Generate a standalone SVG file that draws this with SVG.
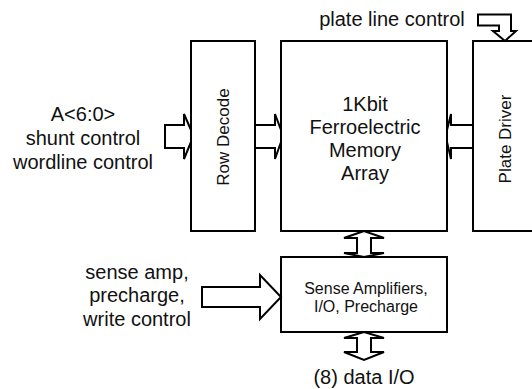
<svg xmlns="http://www.w3.org/2000/svg" width="532" height="389" viewBox="0 0 532 389">
<style>
.box{fill:#fff;stroke:#000;stroke-width:2}
.arr{fill:none;stroke:#000;stroke-width:2;stroke-linejoin:miter}
.arrf{fill:#fff;stroke:#000;stroke-width:2;stroke-linejoin:miter}
text{font-family:"Liberation Sans",Arial,sans-serif;fill:#111;text-anchor:middle}
.t{font-size:20px}
.v{font-size:17px}
.s{font-size:16px}
</style>
<rect width="532" height="389" fill="#fff"/>
<g id="row-decode">
<rect class="box" x="191" y="41" width="64" height="190"/>
<text class="v" transform="translate(229,137) rotate(-90)">Row Decode</text>
</g>
<g id="memory-array">
<rect class="box" x="281" y="41" width="166" height="190"/>
<text class="t" x="365" y="111">1Kbit</text>
<text class="t" x="365" y="134">Ferroelectric</text>
<text class="t" x="365" y="157">Memory</text>
<text class="t" x="365" y="180">Array</text>
</g>
<g id="plate-driver">
<rect class="box" x="473" y="41" width="80" height="190"/>
<text class="v" transform="translate(511,139) rotate(-90)">Plate Driver</text>
</g>
<g id="sense-amps">
<rect class="box" x="281" y="257" width="166" height="75"/>
<text class="s" x="366" y="294">Sense Amplifiers,</text>
<text class="s" x="366" y="312">I/O, Precharge</text>
</g>
<g id="labels">
<text class="t" x="83" y="121">A&lt;6:0&gt;</text>
<text class="t" x="83" y="145">shunt control</text>
<text class="t" x="83" y="169">wordline control</text>
<text class="t" x="392" y="26">plate line control</text>
<text class="t" x="137" y="279">sense amp,</text>
<text class="t" x="137" y="302">precharge,</text>
<text class="t" x="137" y="326">write control</text>
<text class="t" x="364" y="384">(8) data I/O</text>
</g>
<g id="connectors">
<path class="arr" d="M191,130 L184,114 V125 H165 V148 H184 V159 L191,142"/>
<path class="arr" d="M281,130 L275,114 V125 H255 M255,148 H275 V159 L281,142"/>
<path class="arr" d="M447,130 L451,114 V125 H473 M473,148 H451 V159 L447,142"/>
<path class="arrf" d="M478,14.5 H511 V31 H516 L505,41 L493,31 H499 V25.5 H478 Z"/>
<path class="arrf" d="M364,231 L344,238 H357 V253 H344 L364,257 L384,253 H371 V238 H384 Z"/>
<path class="arrf" d="M364,332 L344,338 H357 V352 H344 L364,360 L384,352 H371 V338 H384 Z"/>
<path class="arrf" d="M202,287 H260 V275 L281,297 L260,319 V307 H202 Z"/>
</g>
</svg>
